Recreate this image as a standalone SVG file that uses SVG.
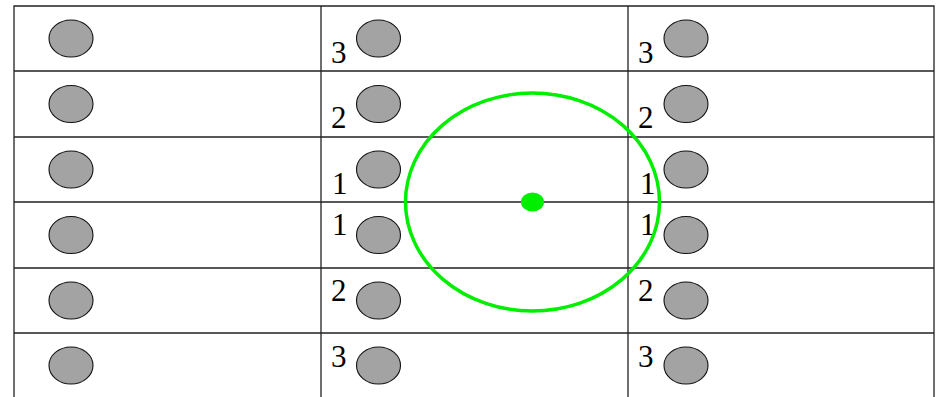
<svg xmlns="http://www.w3.org/2000/svg" width="939" height="397" viewBox="0 0 939 397">
<style>
.grid{stroke:#222;stroke-width:1.3;fill:none}
.dot{fill:#a3a3a3;stroke:#111;stroke-width:1.1}
.ring{fill:none;stroke:#00ee00;stroke-width:3.5}
</style>
<rect width="939" height="397" fill="#fff"/>
<g id="grid" class="grid">
<path d="M14,400 V6 H934 V400"/>
<path d="M321,6 V400 M628,6 V400"/>
<path d="M14,71 H934 M14,137 H934 M14,202 H934 M14,268 H934 M14,333 H934"/>
</g>
<g id="left-column">
<ellipse class="dot" cx="71" cy="38.5" rx="22" ry="18.5"/>
<ellipse class="dot" cx="71" cy="104" rx="22" ry="18.5"/>
<ellipse class="dot" cx="71" cy="169.5" rx="22" ry="18.5"/>
<ellipse class="dot" cx="71" cy="235" rx="22" ry="18.5"/>
<ellipse class="dot" cx="71" cy="300.5" rx="22" ry="18.5"/>
<ellipse class="dot" cx="71" cy="365.5" rx="22" ry="18.5"/>
</g>
<g id="middle-column">
<ellipse class="dot" cx="378.5" cy="38.5" rx="22" ry="18.5"/>
<ellipse class="dot" cx="378.5" cy="104" rx="22" ry="18.5"/>
<ellipse class="dot" cx="378.5" cy="169.5" rx="22" ry="18.5"/>
<ellipse class="dot" cx="378.5" cy="235" rx="22" ry="18.5"/>
<ellipse class="dot" cx="378.5" cy="300.5" rx="22" ry="18.5"/>
<ellipse class="dot" cx="378.5" cy="365.5" rx="22" ry="18.5"/>
<g font-family="Liberation Serif, Times New Roman, serif" font-size="31" fill="#000">
<text x="331" y="63">3</text>
<text x="331" y="128">2</text>
<text x="332" y="194">1</text>
<text x="332" y="235">1</text>
<text x="331" y="301">2</text>
<text x="331" y="367">3</text>
</g>
</g>
<g id="right-column">
<ellipse class="dot" cx="686" cy="38.5" rx="22" ry="18.5"/>
<ellipse class="dot" cx="686" cy="104" rx="22" ry="18.5"/>
<ellipse class="dot" cx="686" cy="169.5" rx="22" ry="18.5"/>
<ellipse class="dot" cx="686" cy="235" rx="22" ry="18.5"/>
<ellipse class="dot" cx="686" cy="300.5" rx="22" ry="18.5"/>
<ellipse class="dot" cx="686" cy="365.5" rx="22" ry="18.5"/>
<g font-family="Liberation Serif, Times New Roman, serif" font-size="31" fill="#000">
<text x="638" y="63">3</text>
<text x="638" y="128">2</text>
<text x="640" y="194">1</text>
<text x="640" y="235">1</text>
<text x="638" y="301">2</text>
<text x="638" y="367">3</text>
</g>
</g>
<g id="range">
<ellipse class="ring" cx="532.5" cy="202" rx="127" ry="109"/>
<ellipse cx="532.5" cy="202" rx="11.5" ry="9.5" fill="#00ee00"/>
</g>
</svg>
